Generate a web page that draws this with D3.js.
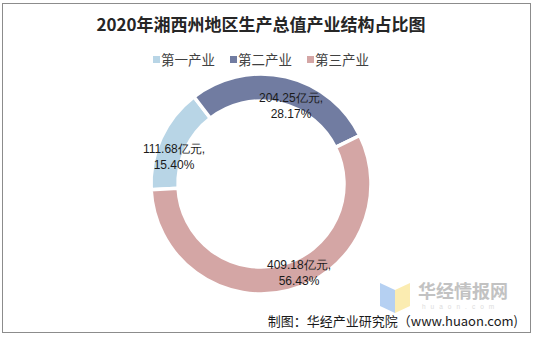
<!DOCTYPE html>
<html>
<head>
<meta charset="utf-8">
<script src="https://cdn.jsdelivr.net/npm/d3@7"></script>
<style>
  html, body { margin: 0; padding: 0; background: #fff; }
  svg { display: block; }
</style>
</head>
<body>
<svg id="chart" width="533" height="337"></svg>
<script>
// 2020 regional GDP by sector (亿元)
const categories = ["第一产业", "第二产业", "第三产业"];
const values = [111.68, 204.25, 409.18];
const shares = ["15.40%", "28.17%", "56.43%"];
const colors = ["#b8d5e6", "#717ca1", "#d4a6a5"];

const W = 533, H = 337;
const svg = d3.select("#chart");

// frame
svg.append("rect")
  .attr("x", 2.5).attr("y", 3.5)
  .attr("width", 528).attr("height", 329)
  .attr("fill", "#fff").attr("stroke", "#8c8c8c").attr("stroke-width", 1);

// title
svg.append("text")
  .attr("x", 261).attr("y", 31)
  .attr("text-anchor", "middle")
  .attr("font-family", "'Noto Sans CJK SC', sans-serif")
  .attr("font-weight", "bold")
  .attr("font-size", 17)
  .attr("fill", "#262626")
  .text("2020年湘西州地区生产总值产业结构占比图");

// legend
const legendX = [153, 230, 307];
const legend = svg.append("g");
categories.forEach((c, i) => {
  legend.append("rect")
    .attr("x", legendX[i]).attr("y", 56)
    .attr("width", 7).attr("height", 7)
    .attr("fill", colors[i]);
  legend.append("text")
    .attr("x", legendX[i] + 8).attr("y", 65)
    .attr("font-family", "'Noto Sans CJK SC', sans-serif")
    .attr("font-size", 13.5)
    .attr("fill", "#404040")
    .text(c);
});

// donut
const cx = 261, cy = 184, R = 110, r = 83;
const startDeg = -93;
const pie = d3.pie()
  .sort(null)
  .value(d => d)
  .startAngle(startDeg * Math.PI / 180)
  .endAngle((startDeg + 360) * Math.PI / 180);
const arcs = pie(values);
const arc = d3.arc().innerRadius(r).outerRadius(R);

const g = svg.append("g").attr("transform", `translate(${cx},${cy})`);
g.selectAll("path")
  .data(arcs)
  .join("path")
  .attr("d", arc)
  .attr("fill", (d, i) => colors[i])
  .attr("stroke", "#fff")
  .attr("stroke-width", 3.5)
  .attr("stroke-linejoin", "miter");

// data labels
const labelPos = [[-87, -31], [30, -82], [38, 85]];
const lbl = g.append("g")
  .attr("font-family", "'Liberation Sans', Arial, sans-serif")
  .attr("font-size", 12)
  .attr("fill", "#1a1a1a")
  .attr("text-anchor", "middle");
arcs.forEach((a, i) => {
  const [x, y] = labelPos[i];
  const t = lbl.append("text").attr("x", x).attr("y", y);
  t.append("tspan").attr("x", x).attr("dy", 0).text(d3.format(".2f")(values[i]) + "亿元,");
  t.append("tspan").attr("x", x).attr("dy", 15.5).text(shares[i]);
});

// watermark logo
const wm = svg.append("g").attr("opacity", 0.85);
wm.append("path")
  .attr("d", "M380,283 L395,290 L395,313 L380,306 Z")
  .attr("fill", "#a9c8f0");
wm.append("path")
  .attr("d", "M395,290 L410,283 L410,306 L395,313 Z")
  .attr("fill", "#fbe9a4");
svg.append("text")
  .attr("x", 418).attr("y", 298)
  .attr("font-family", "'Noto Sans CJK SC', sans-serif")
  .attr("font-weight", "bold")
  .attr("font-size", 18)
  .attr("fill", "#c2c2c2")
  .text("华经情报网");
svg.append("text")
  .attr("x", 422).attr("y", 309)
  .attr("font-family", "'Liberation Sans', Arial, sans-serif")
  .attr("font-size", 6.5)
  .attr("letter-spacing", 5)
  .attr("fill", "#dcdcdc")
  .text("huaon.com");

// source note
svg.append("text")
  .attr("x", 518).attr("y", 325.5)
  .attr("text-anchor", "end")
  .attr("font-family", "'Noto Sans CJK SC', sans-serif")
  .attr("font-size", 13)
  .attr("fill", "#1a1a1a")
  .text("制图：华经产业研究院（www.huaon.com)");
</script>
</body>
</html>
